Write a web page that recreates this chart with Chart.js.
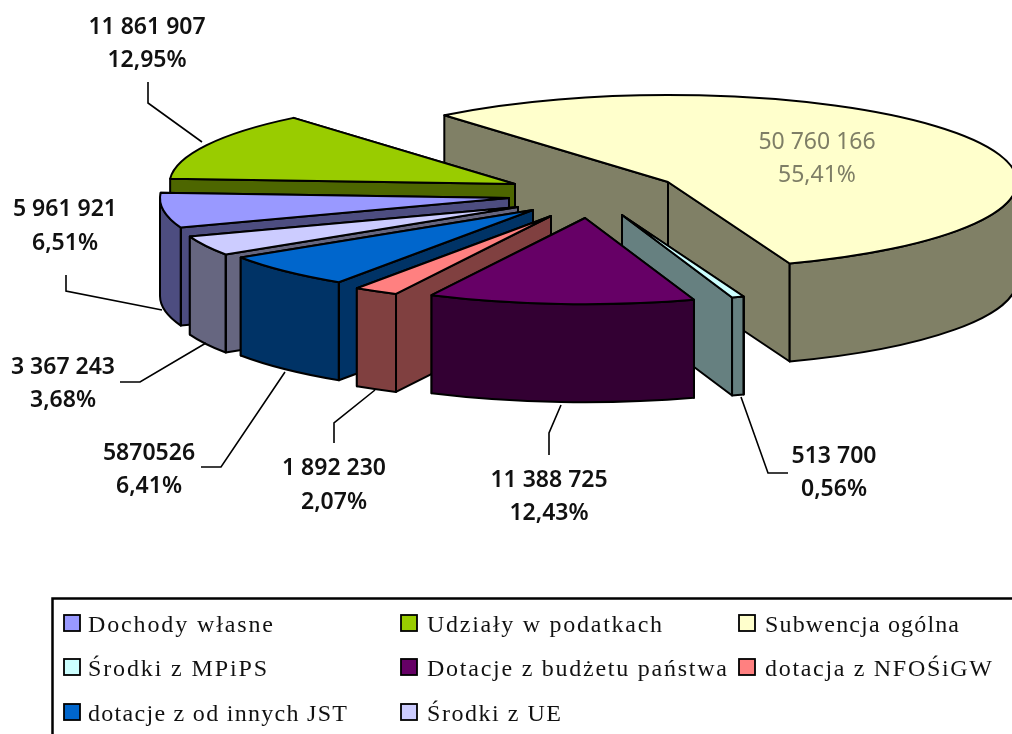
<!DOCTYPE html>
<html>
<head>
<meta charset="utf-8">
<style>
html,body{margin:0;padding:0;background:#fff;overflow:hidden}
canvas{display:block;filter:blur(0.55px)}
</style>
<script src="https://cdn.jsdelivr.net/npm/chart.js@4/dist/chart.umd.min.js"></script>
</head>
<body>
<canvas id="c" width="1012" height="734"></canvas>
<script>
// ---- data ----
const categories = ['Dochody własne','Udziały w podatkach','Subwencja ogólna','Środki z MPiPS','Dotacje z budżetu państwa','dotacja z NFOŚiGW','dotacje z od innych JST','Środki z UE'];
const values = [5961921,11861907,50760166,513700,11388725,1892230,5870526,3367243];
const valueLabels = ['5 961 921','11 861 907','50 760 166','513 700','11 388 725','1 892 230','5870526','3 367 243'];
const percentLabels = ['6,51%','12,95%','55,41%','0,56%','12,43%','2,07%','6,41%','3,68%'];

// ---- styles ----
const topColors = ['#9999FF','#99CC00','#FFFFCC','#CCFFFF','#660066','#FF8080','#0066CC','#CCCCFF'];
const wallColors = ['#4D4D80','#4D6600','#808066','#668080','#330033','#804040','#003366','#666680'];
const explodedCentres = [[509,198],[515,184],[668,182],[622,215],[585,218],[551,216],[533,210],[518,207]];
const sliceScale = [1,0.99,1,1,0.99,1,1,1];
const paintOrder = [2,1,0,7,6,5,3,4];
const BASE_RX = 349, BASE_RY = 87, DEPTH = 98;
const labelPos = [[65,209,243],[147,27,60],[817,142,175],[834,456,489],[549,480,513],[334,468,502],[149,453,486],[63,367,400]];
const leaders = [
  [[66,275],[66,291],[162,310]],
  [[148,82],[148,103],[202,142]],
  null,
  [[788,473],[768,473],[741,397]],
  [[549,455],[549,433],[561,405]],
  [[334,443],[334,423],[375,390]],
  [[201,467],[221,467],[285,372]],
  [[120,382],[140,382],[206,343]]
];
const legendCols = [[64,88],[401,427],[739,765]];
const legendRows = [625,669,714];
const legendWidths = [185,235,194,179,300,227,259,134];

const TAU = Math.PI*2;

function wallQuad(ctx,cx,cy,RX,RY,ang,color){
  const x = cx+RX*Math.cos(ang), y = cy+RY*Math.sin(ang);
  ctx.beginPath();
  ctx.moveTo(cx,cy); ctx.lineTo(x,y); ctx.lineTo(x,y+DEPTH); ctx.lineTo(cx,cy+DEPTH); ctx.closePath();
  ctx.fillStyle = color; ctx.fill(); ctx.stroke();
}
function outerWall(ctx,cx,cy,RX,RY,a0,a1,color){
  ctx.beginPath();
  ctx.ellipse(cx,cy,RX,RY,0,a0,a1,false);
  ctx.ellipse(cx,cy+DEPTH,RX,RY,0,a1,a0,true);
  ctx.closePath();
  ctx.fillStyle = color; ctx.fill(); ctx.stroke();
}

const pie3d = {
  id:'pie3d',
  beforeDatasetsDraw(chart){
    const ctx = chart.ctx, arcs = chart.getDatasetMeta(0).data;
    ctx.save();
    ctx.strokeStyle = '#000'; ctx.lineWidth = 2; ctx.lineJoin = 'round';
    paintOrder.forEach(i=>{
      const arc = arcs[i], [cx,cy] = explodedCentres[i];
      const RX = BASE_RX*sliceScale[i], RY = BASE_RY*sliceScale[i];
      const sweep = arc.endAngle-arc.startAngle;
      let s = arc.startAngle % TAU; if (s<0) s+=TAU;
      const e = s+sweep, mid = (s+e)/2;
      if (Math.cos(mid)<0){ wallQuad(ctx,cx,cy,RX,RY,e,wallColors[i]); wallQuad(ctx,cx,cy,RX,RY,s,wallColors[i]); }
      else { wallQuad(ctx,cx,cy,RX,RY,s,wallColors[i]); wallQuad(ctx,cx,cy,RX,RY,e,wallColors[i]); }
      [[0,Math.PI],[TAU,TAU+Math.PI]].forEach(([lo,hi])=>{
        const a0 = Math.max(s,lo), a1 = Math.min(e,hi);
        if (a1>a0){
          outerWall(ctx,cx,cy,RX,RY,a0,a1,wallColors[i]);
          if (a0>lo && a0<hi){ ctx.beginPath(); ctx.moveTo(cx+RX*Math.cos(a0),cy+RY*Math.sin(a0)); ctx.lineTo(cx+RX*Math.cos(a0),cy+RY*Math.sin(a0)+DEPTH); ctx.stroke(); }
        }
      });
      // the top face: the library's own arc, squashed into the tilted plane
      ctx.save();
      ctx.translate(cx,cy);
      ctx.scale(RX/arc.outerRadius,RY/arc.outerRadius);
      ctx.translate(-arc.x,-arc.y);
      arc.draw(ctx);
      ctx.restore();
      ctx.beginPath();
      ctx.moveTo(cx,cy);
      ctx.ellipse(cx,cy,RX,RY,0,s,e,false);
      ctx.closePath();
      ctx.stroke();
    });
    ctx.restore();
    return false;
  },
  afterDraw(chart){
    const ctx = chart.ctx;
    ctx.save();
    // leader lines
    ctx.strokeStyle = '#000'; ctx.lineWidth = 1.6;
    leaders.forEach(l=>{
      if(!l) return;
      ctx.beginPath();
      l.forEach((p,k)=> k? ctx.lineTo(p[0],p[1]) : ctx.moveTo(p[0],p[1]));
      ctx.stroke();
    });
    // data labels
    ctx.textAlign='center'; ctx.textBaseline='middle';
    categories.forEach((_,i)=>{
      const [x,y1,y2] = labelPos[i];
      const inside = i===2;
      ctx.font = (inside?'400':'600')+' 23px "Noto Sans"';
      ctx.fillStyle = inside ? '#7E7E66' : '#111';
      ctx.fillText(valueLabels[i],x,y1);
      ctx.fillText(percentLabels[i],x,y2);
    });
    // legend frame
    ctx.strokeStyle='#000'; ctx.lineWidth=2.5;
    ctx.beginPath(); ctx.moveTo(52.5,740); ctx.lineTo(52.5,598.5); ctx.lineTo(1020,598.5); ctx.stroke();
    // legend entries
    ctx.textAlign='left'; ctx.textBaseline='alphabetic';
    categories.forEach((name,i)=>{
      const col = legendCols[i%3], y = legendRows[Math.floor(i/3)];
      ctx.lineWidth=1.8; ctx.fillStyle=topColors[i];
      ctx.fillRect(col[0],y-10,16,16); ctx.strokeRect(col[0],y-10,16,16);
      ctx.font='24px "Liberation Serif"'; ctx.fillStyle='#111';
      ctx.letterSpacing='0px';
      const natural = ctx.measureText(name).width;
      ctx.letterSpacing = ((legendWidths[i]-natural)/(name.length-1)).toFixed(2)+'px';
      ctx.fillText(name,col[1],y+7);
      ctx.letterSpacing='0px';
    });
    ctx.restore();
  }
};

new Chart(document.getElementById('c'),{
  type:'pie',
  data:{labels:categories,datasets:[{data:values,backgroundColor:topColors,borderWidth:0}]},
  options:{
    responsive:false,animation:false,rotation:250.1,
    plugins:{legend:{display:false},tooltip:{enabled:false}},
    events:[]
  },
  plugins:[pie3d]
});
</script>
</body>
</html>
